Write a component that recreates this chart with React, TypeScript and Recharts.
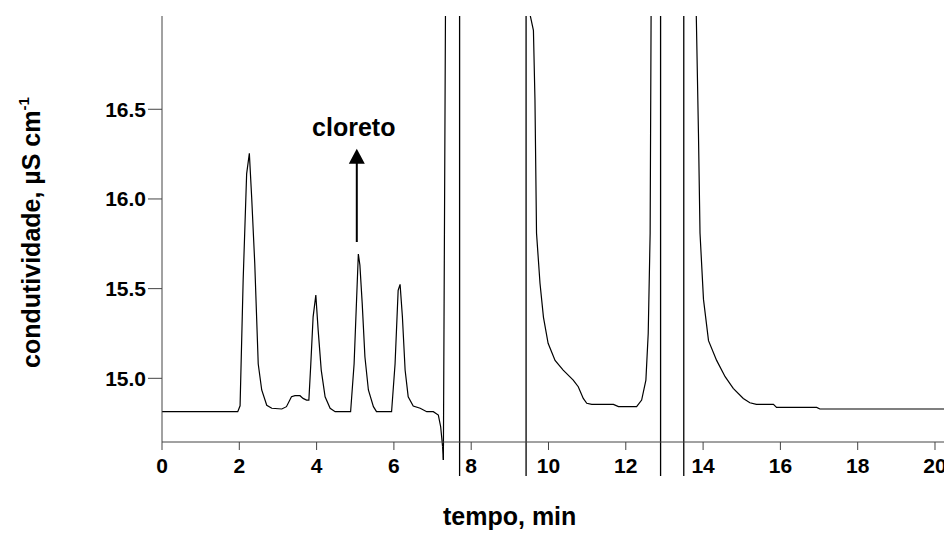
import { LineChart, Line, XAxis, YAxis, ReferenceLine } from 'recharts';

const FONT = "'Liberation Sans', Arial, Helvetica, sans-serif";

// tempo (min) and condutividade (µS/cm)
const tempo = [
  0, 1.96, 2.02, 2.1, 2.19, 2.26, 2.32, 2.4, 2.49, 2.58, 2.71, 2.84,
  3.1, 3.22, 3.35, 3.44, 3.57, 3.65, 3.74, 3.8, 3.85, 3.91, 3.98, 4.04, 4.12, 4.22, 4.35, 4.48,
  4.88, 4.97, 5.08, 5.12, 5.18, 5.25, 5.34, 5.47, 5.55,
  5.94, 6.03, 6.11, 6.16, 6.22, 6.29, 6.37, 6.5, 6.68, 6.85,
  7.02, 7.15, 7.21, 7.26, 7.28, 7.34,
  9.5, 9.52, 9.61, 9.65, 9.69, 9.78, 9.87, 9.99, 10.17, 10.38, 10.64, 10.77, 10.9, 10.99,
  11.12, 11.68, 11.81, 12.28, 12.41, 12.52, 12.58, 12.63, 12.66,
  13.8, 13.88, 13.92, 14.01, 14.14, 14.35, 14.57, 14.78, 15.04, 15.21, 15.38,
  15.82, 15.9, 16.94, 17.02, 20.25,
];
const condutividade = [
  14.814, 14.814, 14.847, 15.55, 16.14, 16.254, 16.01, 15.64, 15.08, 14.935, 14.85, 14.833,
  14.829, 14.842, 14.897, 14.903, 14.903, 14.888, 14.879, 14.879, 15.08, 15.343, 15.464, 15.27, 15.046, 14.897, 14.833, 14.814,
  14.814, 15.08, 15.693, 15.632, 15.418, 15.12, 14.935, 14.842, 14.814,
  14.814, 15.08, 15.49, 15.524, 15.343, 15.046, 14.897, 14.846, 14.833, 14.814,
  14.814, 14.795, 14.73, 14.619, 14.545, 17.3,
  17.2, 17.03, 16.94, 16.55, 15.81, 15.53, 15.34, 15.195, 15.1, 15.046, 14.99, 14.953, 14.888, 14.861,
  14.855, 14.855, 14.842, 14.842, 14.879, 14.99, 15.25, 15.81, 17.3,
  17.3, 16.366, 15.81, 15.44, 15.21, 15.1, 15.009, 14.944, 14.888, 14.864, 14.855,
  14.855, 14.838, 14.838, 14.829, 14.829,
];

// negative dip that runs below the x axis
const dipTempo = [7.248, 7.26, 7.28, 7.282];
const dipValor = [14.645, 14.619, 14.545, 14.645];

// vertical event markers
const marcadores = [7.7, 9.42, 12.9, 13.5];

const xTicks = [0, 2, 4, 6, 8, 10, 12, 14, 16, 18, 20];
const yTicks = [15, 15.5, 16, 16.5];

// arrow pointing at the chloride peak
const setaTempo = 5.04;
const setaBase = 15.76;
const setaTopo = 16.28;

const X_MAX = 20.233;
const Y_MIN = 14.645;
const Y_MAX = 17.02;
const MARK_BOTTOM = 14.455;

const data = tempo.map((t, i) => ({ t, v: condutividade[i] }));

const Seta = (p: any) => {
  const { x1, y1, x2, y2 } = p;
  return (
    <g>
      <line x1={x1} y1={y1} x2={x2} y2={y2 + 12} stroke="#000" strokeWidth={2} />
      <polygon points={`${x2},${y2} ${x2 - 8},${y2 + 15} ${x2 + 8},${y2 + 15}`} fill="#000" />
      <text
        x={x2 - 3}
        y={y2 - 13}
        textAnchor="middle"
        fontFamily={FONT}
        fontWeight="bold"
        fontSize={25}
        fill="#000"
      >
        cloreto
      </text>
    </g>
  );
};

const XTitle = ({ viewBox }: any) => (
  <text
    x={viewBox.x + 281}
    y={viewBox.y + 83}
    fontFamily={FONT}
    fontWeight="bold"
    fontSize={25}
    fill="#000"
  >
    tempo, min
  </text>
);

const YTitle = ({ viewBox }: any) => {
  const x = viewBox.x + 40;
  const y = viewBox.y + viewBox.height - 74;
  return (
    <text
      x={x}
      y={y}
      transform={`rotate(-90, ${x}, ${y})`}
      fontFamily={FONT}
      fontWeight="bold"
      fontSize={25}
      fill="#000"
    >
      condutividade, µS cm
      <tspan dy={-11} fontSize={15}>-1</tspan>
    </text>
  );
};

const tickStyle = { fill: '#000', fontSize: 21, fontWeight: 'bold', fontFamily: FONT };

export default function App() {
  return (
    <div style={{ position: 'absolute', left: 0, top: 0, width: 944, height: 533, background: '#fff' }}>
      <LineChart width={944} height={533} data={data} margin={{ top: 16, right: 0, bottom: 0, left: 0 }}>
        <XAxis
          type="number"
          dataKey="t"
          domain={[0, X_MAX]}
          allowDataOverflow
          ticks={xTicks}
          interval={0}
          height={91}
          tickSize={8}
          tickMargin={8}
          stroke="#444"
          tick={tickStyle}
          label={<XTitle />}
        />
        <YAxis
          type="number"
          domain={[Y_MIN, Y_MAX]}
          allowDataOverflow
          ticks={yTicks}
          interval={0}
          width={162}
          tickSize={14}
          tickMargin={2}
          stroke="#444"
          tick={tickStyle}
          tickFormatter={(v: number) => v.toFixed(1)}
          label={<YTitle />}
        />
        {marcadores.map((m) => (
          <ReferenceLine
            key={m}
            segment={[{ x: m, y: Y_MAX }, { x: m, y: MARK_BOTTOM }]}
            ifOverflow="visible"
            stroke="#000"
            strokeWidth={1.3}
          />
        ))}
        {dipTempo.slice(1).map((t, i) => (
          <ReferenceLine
            key={`dip-${i}`}
            segment={[{ x: dipTempo[i], y: dipValor[i] }, { x: t, y: dipValor[i + 1] }]}
            ifOverflow="visible"
            stroke="#000"
            strokeWidth={1.2}
          />
        ))}
        <ReferenceLine
          segment={[{ x: setaTempo, y: setaBase }, { x: setaTempo, y: setaTopo }]}
          ifOverflow="visible"
          shape={Seta}
        />
        <Line
          type="linear"
          dataKey="v"
          stroke="#000"
          strokeWidth={1.2}
          dot={false}
          activeDot={false}
          isAnimationActive={false}
        />
      </LineChart>
    </div>
  );
}
